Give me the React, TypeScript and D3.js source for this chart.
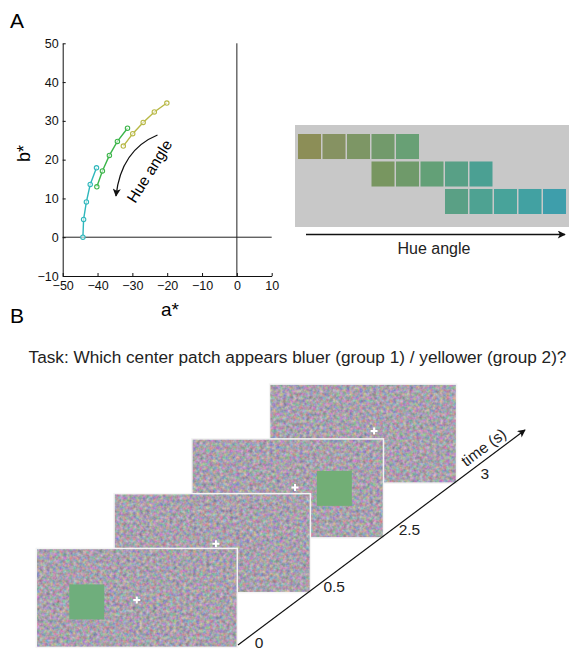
import React, { useEffect, useRef } from "react";
import * as d3 from "d3";

// ---------- Panel A data ----------
const cyanA = [-44.2, -44.0, -43.2, -42.1, -40.3];
const cyanB = [0, 4.6, 9.1, 13.6, 17.9];
const greenA = [-40.2, -38.6, -36.6, -34.3, -31.4];
const greenB = [13.0, 17.1, 21.1, 24.7, 28.1];
const yellowA = [-32.6, -29.9, -26.9, -23.7, -20.1];
const yellowB = [23.5, 26.7, 29.6, 32.3, 34.6];
const seriesColors = ["#2fb7bc", "#3cb54a", "#b8b845"];
const xTicks = [-50, -40, -30, -20, -10, 0, 10];
const yTicks = [-10, 0, 10, 20, 30, 40, 50];

// ---------- Patch strip data ----------
const row1Colors = ["#8c8e57", "#869262", "#7d9665", "#729a6b", "#68a075"];
const row2Colors = ["#789660", "#6f9a6a", "#63a077", "#58a086", "#4ba093"];
const row3Colors = ["#5aa085", "#4ea292", "#48a39a", "#42a1a2", "#3e9eab"];
const rowStartCols = [0, 3, 6];

// ---------- Panel B data ----------
const frameTimes = ["0", "0.5", "2.5", "3"];
const framePatch = [true, false, true, false];
const taskText = "Task: Which center patch appears bluer (group 1) / yellower (group 2)?";

const FONT = "'Liberation Sans', Arial, Helvetica, sans-serif";

export default function App() {
  const ref = useRef<SVGSVGElement | null>(null);

  useEffect(() => {
    const svg = d3.select(ref.current);
    svg.selectAll("*").remove();
    svg.style("font-family", FONT);

    const defs = svg.append("defs");
    defs
      .append("marker")
      .attr("id", "ah")
      .attr("viewBox", "0 0 10 10")
      .attr("refX", 9)
      .attr("refY", 5)
      .attr("markerUnits", "userSpaceOnUse")
      .attr("markerWidth", 10)
      .attr("markerHeight", 8)
      .attr("orient", "auto")
      .append("path")
      .attr("d", "M0,0 L10,5 L0,10 L2.5,5 Z")
      .attr("fill", "#111");

    const f = defs
      .append("filter")
      .attr("id", "noise")
      .attr("x", 0)
      .attr("y", 0)
      .attr("width", 1)
      .attr("height", 1)
      .attr("color-interpolation-filters", "sRGB");
    f.append("feTurbulence")
      .attr("type", "fractalNoise")
      .attr("baseFrequency", 0.3)
      .attr("numOctaves", 2)
      .attr("seed", 7)
      .attr("result", "t");
    f.append("feColorMatrix")
      .attr("in", "t")
      .attr("type", "matrix")
      .attr(
        "values",
        "0.62 0 0 0 0.35  0 0.5 0 0 0.38  0 0 0.5 0 0.43  0 0 0 0 1"
      )
      .attr("result", "c");
    f.append("feComposite").attr("in", "c").attr("in2", "SourceGraphic").attr("operator", "in");

    // ---------- Panel labels ----------
    svg.append("text").attr("x", 10).attr("y", 28).attr("font-size", 21).text("A");
    svg.append("text").attr("x", 10).attr("y", 323).attr("font-size", 21).text("B");

    // ---------- Panel A scatter ----------
    const x = d3.scaleLinear().domain([-50, 10]).range([62.7, 271.7]);
    const y = d3.scaleLinear().domain([-10, 50]).range([276, 43.3]);

    const gA = svg.append("g");
    gA.append("line")
      .attr("x1", x(0)).attr("x2", x(0))
      .attr("y1", y(50)).attr("y2", y(-10))
      .attr("stroke", "#222").attr("stroke-width", 1);
    gA.append("line")
      .attr("x1", x(-50)).attr("x2", x(10))
      .attr("y1", y(0)).attr("y2", y(0))
      .attr("stroke", "#222").attr("stroke-width", 1);

    const xAxis = d3.axisBottom(x).tickValues(xTicks).tickSizeInner(-3).tickSizeOuter(0).tickPadding(5);
    const yAxis = d3.axisLeft(y).tickValues(yTicks).tickSizeInner(-3).tickSizeOuter(0).tickPadding(4);
    const gx = gA.append("g").attr("transform", `translate(0,${y(-10)})`).call(xAxis);
    const gy = gA.append("g").attr("transform", `translate(${x(-50)},0)`).call(yAxis);
    [gx, gy].forEach((g) => {
      g.selectAll("text").attr("font-size", 12.5).attr("font-family", FONT).attr("fill", "#111");
      g.selectAll("line, path").attr("stroke", "#111");
    });

    gA.append("text")
      .attr("transform", `translate(${30},${153.5}) rotate(-90)`)
      .attr("text-anchor", "middle")
      .attr("font-size", 18)
      .text("b*");
    gA.append("text")
      .attr("x", 170)
      .attr("y", 316)
      .attr("text-anchor", "middle")
      .attr("font-size", 19)
      .text("a*");

    const series = [
      { a: cyanA, b: cyanB, c: seriesColors[0] },
      { a: greenA, b: greenB, c: seriesColors[1] },
      { a: yellowA, b: yellowB, c: seriesColors[2] },
    ];
    series.forEach((s) => {
      const pts = s.a.map((v, i) => [x(v), y(s.b[i])] as [number, number]);
      gA.append("path")
        .attr("d", d3.line()(pts))
        .attr("fill", "none")
        .attr("stroke", s.c)
        .attr("stroke-width", 1.4);
      gA.selectAll(null)
        .data(pts)
        .enter()
        .append("circle")
        .attr("cx", (d) => d[0])
        .attr("cy", (d) => d[1])
        .attr("r", 2.2)
        .attr("fill", "#fff")
        .attr("fill-opacity", 0.6)
        .attr("stroke", s.c)
        .attr("stroke-width", 1.1);
    });

    gA.append("path")
      .attr("d", "M157.5,135 Q121,150 116,196")
      .attr("fill", "none")
      .attr("stroke", "#111")
      .attr("stroke-width", 1.3)
      .attr("marker-end", "url(#ah)");
    gA.append("text")
      .attr("transform", "translate(154,174) rotate(-58)")
      .attr("text-anchor", "middle")
      .attr("font-size", 15.5)
      .text("Hue angle");

    // ---------- Patch strip ----------
    const gP = svg.append("g");
    gP.append("rect")
      .attr("x", 295).attr("y", 125)
      .attr("width", 274).attr("height", 102)
      .attr("fill", "#c8c8c8");
    const colScale = d3.scaleBand<number>().domain(d3.range(11)).range([298, 566]).paddingInner(0.061);
    const rowScale = d3.scaleBand<number>().domain([0, 1, 2]).range([134, 214]).paddingInner(0.09).paddingOuter(0);
    const rows = [row1Colors, row2Colors, row3Colors];
    rows.forEach((cols, r) => {
      cols.forEach((c, k) => {
        gP.append("rect")
          .attr("x", colScale(rowStartCols[r] + k)!)
          .attr("y", rowScale(r)!)
          .attr("width", colScale.bandwidth())
          .attr("height", rowScale.bandwidth())
          .attr("fill", c);
      });
    });
    gP.append("line")
      .attr("x1", 306).attr("x2", 565)
      .attr("y1", 234.5).attr("y2", 234.5)
      .attr("stroke", "#111").attr("stroke-width", 1.4)
      .attr("marker-end", "url(#ah)");
    gP.append("text")
      .attr("x", 434).attr("y", 254)
      .attr("text-anchor", "middle")
      .attr("font-size", 16)
      .attr("fill", "#222")
      .text("Hue angle");

    // ---------- Panel B ----------
    const gB = svg.append("g");
    gB.append("text")
      .attr("x", 297.5).attr("y", 363)
      .attr("text-anchor", "middle")
      .attr("font-size", 17.2)
      .attr("fill", "#222")
      .text(taskText);

    const x0 = 238, y0 = 645, x1 = 525, y1 = 430;
    const len = Math.hypot(x1 - x0, y1 - y0);
    const ux = (x1 - x0) / len, uy = (y1 - y0) / len;
    const px = -uy, py = ux;
    const along = d3.scalePoint<string>().domain(frameTimes).range([-2, 272]);
    const labelAlong = d3.scalePoint<string>().domain(frameTimes).range([18, 300]);
    const widthS = d3.scaleLinear().domain([0, 3]).range([201, 187]);
    const crossDx = d3.scaleLinear().domain([0, 3]).range([0, 11]);
    const at = (a: number, p: number): [number, number] => [x0 + ux * a + px * p, y0 + uy * a + py * p];

    const frames = frameTimes.map((t, i) => {
      const [cx, cy] = at(along(t)!, 1.5);
      const w = widthS(i);
      const h = 99;
      return { t, i, x: cx - w, y: cy - h, w, h, patch: framePatch[i] };
    });

    frames
      .slice()
      .reverse()
      .forEach((fr) => {
        const g = gB.append("g");
        g.append("rect")
          .attr("x", fr.x).attr("y", fr.y)
          .attr("width", fr.w).attr("height", fr.h)
          .attr("fill", "#a8a0b0")
          .attr("filter", "url(#noise)");
        g.append("rect")
          .attr("x", fr.x).attr("y", fr.y)
          .attr("width", fr.w).attr("height", fr.h)
          .attr("fill", "none")
          .attr("stroke", "#f4f4f4")
          .attr("stroke-width", 1.5);
        if (fr.patch) {
          const px0 = fr.i === 0 ? fr.x + 33 : fr.x + 125;
          const py0 = fr.i === 0 ? fr.y + 36 : fr.y + 32;
          g.append("rect")
            .attr("x", px0).attr("y", py0)
            .attr("width", 35).attr("height", 35)
            .attr("fill", fr.i === 0 ? "#6fae7c" : "#72ae76");
        }
        const ccx = fr.x + fr.w / 2 + crossDx(fr.i);
        const ccy = fr.y + fr.h / 2 + 2 - fr.i * 1.5;
        g.append("path")
          .attr("d", `M${ccx - 3.5},${ccy} H${ccx + 3.5} M${ccx},${ccy - 3.5} V${ccy + 3.5}`)
          .attr("stroke", "#fff")
          .attr("stroke-width", 2);
      });

    gB.append("line")
      .attr("x1", x0).attr("y1", y0)
      .attr("x2", x1).attr("y2", y1)
      .attr("stroke", "#111").attr("stroke-width", 1.2)
      .attr("marker-end", "url(#ah)");

    frameTimes.forEach((t) => {
      const [lx, ly] = at(labelAlong(t)!, 11);
      gB.append("text")
        .attr("x", lx).attr("y", ly + 5)
        .attr("text-anchor", "middle")
        .attr("font-size", 15.5)
        .attr("fill", "#222")
        .text(t);
    });
    const [tx, ty] = at(318, -9.5);
    const ang = (Math.atan2(y1 - y0, x1 - x0) * 180) / Math.PI;
    gB.append("text")
      .attr("transform", `translate(${tx},${ty + 5}) rotate(${ang})`)
      .attr("text-anchor", "middle")
      .attr("font-size", 15.5)
      .attr("fill", "#222")
      .text("time (s)");
  }, []);

  return (
    <svg
      ref={ref}
      width={572}
      height={650}
      style={{ position: "absolute", left: 0, top: 0, background: "#fff" }}
    />
  );
}
